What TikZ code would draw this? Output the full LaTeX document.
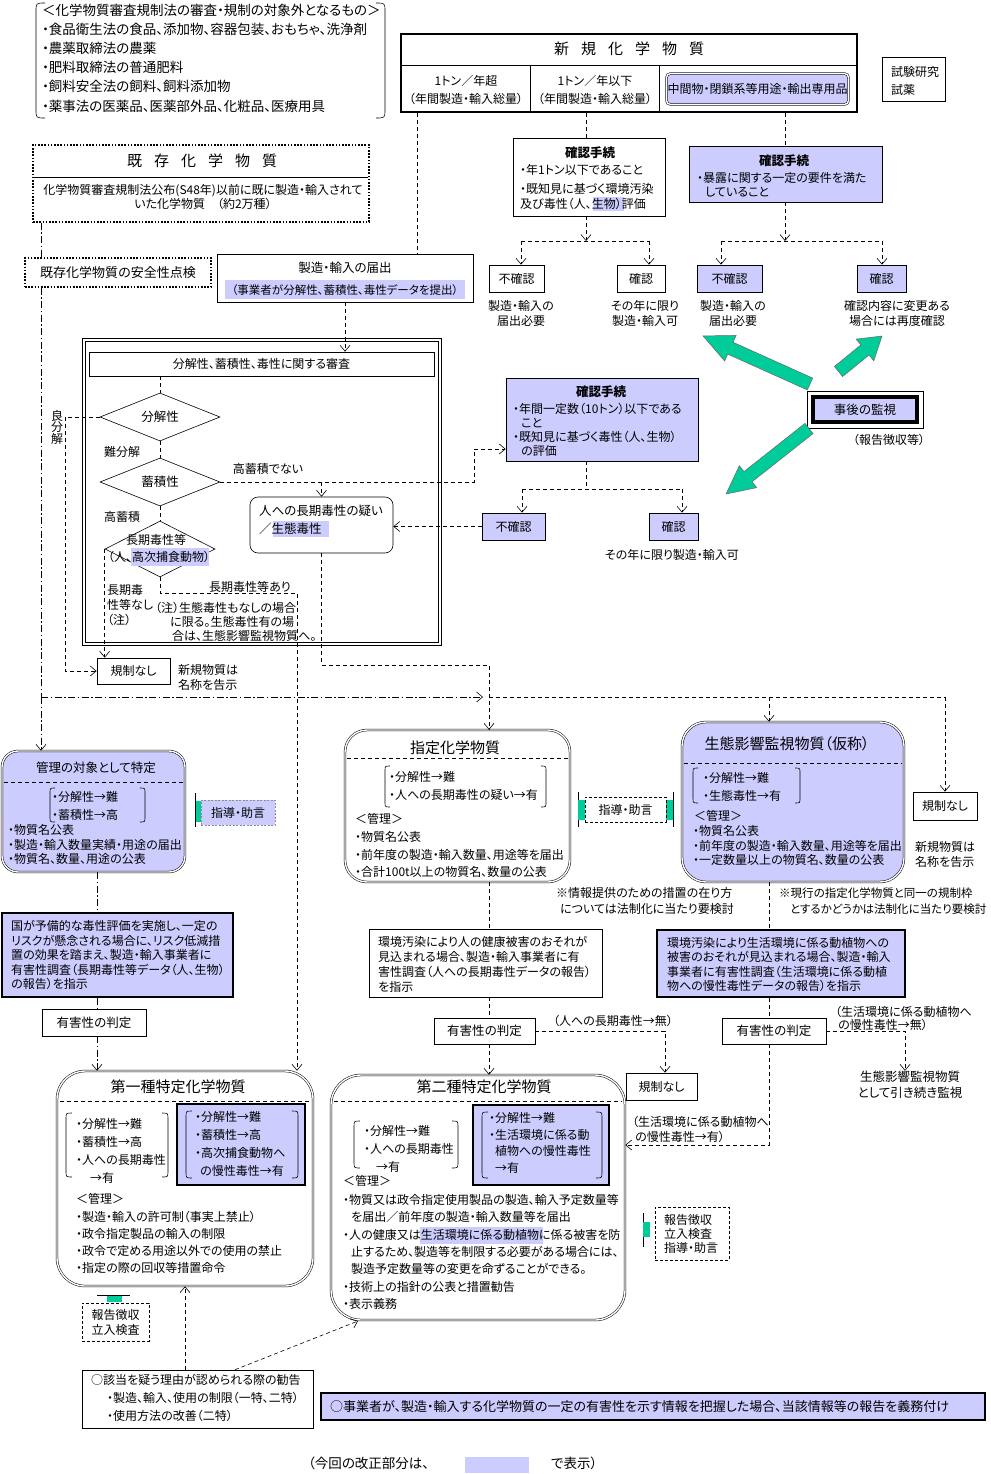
\documentclass[tikz,border=0pt]{standalone}
\usepackage{fontspec}
\setmainfont{Noto Sans CJK JP}[RawFeature=+palt]
\usetikzlibrary{arrows.meta,shapes.geometric}
\definecolor{lav}{RGB}{204,204,255}
\definecolor{grn}{RGB}{0,204,153}
\newcommand\fz[2]{\fontsize{#1}{#2}\selectfont}
\newcommand\gapx{\hspace{12pt}}
\newcommand\lbrk[4]{\draw[line width=0.6pt] (#1+#4,#2) .. controls (#1,#2) .. (#1,#2+#4) -- (#1,#3-#4) .. controls (#1,#3) .. (#1+#4,#3);}
\newcommand\rbrk[4]{\draw[line width=0.6pt] (#1-#4,#2) .. controls (#1,#2) .. (#1,#2+#4) -- (#1,#3-#4) .. controls (#1,#3) .. (#1-#4,#3);}
\newcommand\garrow[5]{\begin{scope}[shift={(#1,#2)},rotate=#3]
\filldraw[fill=grn,draw=black!60,line width=0.5pt] (0pt,-6.5pt) -- ({#4pt-#5pt},-6.5pt) -- ({#4pt-#5pt},-14pt) -- (#4pt,0pt) -- ({#4pt-#5pt},14pt) -- ({#4pt-#5pt},6.5pt) -- (0pt,6.5pt) -- cycle;
\end{scope}}
\begin{document}
\begin{tikzpicture}[x=1pt,y=-1pt,font=\fz{12}{14},
 t/.style={inner sep=0pt,align=left,font=\fz{12}{14}},
 bx/.style={draw,line width=0.6pt,inner sep=0pt,fill=white},
 lb/.style={draw,line width=0.6pt,inner sep=0pt,fill=lav},
 tb/.style={draw,line width=2pt,inner sep=0pt,fill=lav},
 dbl/.style={draw,line width=0.5pt,double=white,double distance=1.4pt,inner sep=0pt},
 dotb/.style={draw,line width=1.6pt,dash pattern=on 1.6pt off 1.6pt,inner sep=0pt,fill=white},
 dbx/.style={draw,line width=0.6pt,dash pattern=on 3pt off 2pt,inner sep=0pt,fill=white},
 dsh/.style={line width=0.6pt,dash pattern=on 4pt off 3pt},
 ddt/.style={line width=0.6pt,dash pattern=on 7pt off 2.5pt on 1.5pt off 2.5pt},
 arr/.style={-{Straight Barb[length=6pt,width=10pt]}},
 dmd/.style={diamond,aspect=2.5,draw,line width=0.6pt,inner sep=0pt,fill=white},
 hl/.style={fill=lav}]
\useasboundingbox (0,0) rectangle (990,1474);
\fill[white] (0,0) rectangle (990,1474);

% coordinates
\coordinate (c41) at (41,0);
\coordinate (c65) at (65,0);
\coordinate (c97) at (97,0);
\coordinate (c185) at (185,0);
\coordinate (c235) at (235,0);
\coordinate (c417) at (417,0);
\coordinate (c586) at (586,0);
\coordinate (c665) at (665,0);
\coordinate (c785) at (785,0);
\coordinate (c905) at (905,0);
\coordinate (j1) at (41,697);
\coordinate (j2a) at (483,697);
\coordinate (j2) at (489,697);
\coordinate (h2) at (489,665);
\coordinate (k946) at (945,697);
\coordinate (c769) at (769,697);
\coordinate (m449) at (474,449);
\coordinate (p593) at (297,593);
\coordinate (b1) at (521,241);
\coordinate (b2) at (649,241);
\coordinate (b3) at (721,241);
\coordinate (b4) at (882,241);
\coordinate (b5) at (522,489);
\coordinate (b6) at (682,489);
\coordinate (q1145) at (769,1145);
\coordinate (dg) at (358,1321);

% exclusion list
\node[t,anchor=west,font=\fz{13.5}{19.2}] (excl) at (42,58) {＜化学物質審査規制法の審査・規制の対象外となるもの＞\\・食品衛生法の食品、添加物、容器包装、おもちゃ、洗浄剤\\・農薬取締法の農薬\\・肥料取締法の普通肥料\\・飼料安全法の飼料、飼料添加物\\・薬事法の医薬品、医薬部外品、化粧品、医療用具};
\lbrk{36}{3}{118}{9} \rbrk{385}{3}{118}{9}

% new chemicals table
\node[draw,line width=2pt,inner sep=0pt,minimum width=456pt,minimum height=78pt] (newbox) at (629,73) {};
\draw[line width=0.6pt] (401,65) -- (857,65) (530,65) -- (530,112) (659,65) -- (659,112);
\node[t,font=\fz{15}{18}] (newT) at (629,49) {新\gapx 規\gapx 化\gapx 学\gapx 物\gapx 質};
\node[t,align=center,font=\fz{12}{18}] (cellA) at (466,90) {1トン／年超\\（年間製造・輸入総量）};
\node[t,align=center,font=\fz{12}{18}] (cellB) at (595,90) {1トン／年以下\\（年間製造・輸入総量）};
\node[dbl,fill=lav,rounded corners=4pt,minimum width=182pt,minimum height=31pt] (cellC) at (757.5,89) {中間物・閉鎖系等用途・輸出専用品};
\node[bx,minimum width=63pt,minimum height=44pt] (shiken) at (913.5,79) {};
\node[t,anchor=west,font=\fz{12}{18}] (shikenT) at (891,81) {試験研究\\試薬};

% existing chemicals
\node[dotb,minimum width=336pt,minimum height=77pt] (kizon) at (201,183.5) {};
\draw[line width=0.6pt] (34,177) -- (368,177);
\node[t,font=\fz{15}{18}] (kizonT) at (202,161) {既\gapx 存\gapx 化\gapx 学\gapx 物\gapx 質};
\node[t,align=center] (kizonD) at (203,197) {化学物質審査規制法公布(S48年)以前に既に製造・輸入されて\\いた化学物質　（約2万種）};
\node[dotb,minimum width=186pt,minimum height=29pt,font=\fz{13}{16}] (anzen) at (118,272.5) {既存化学物質の安全性点検};

% notification
\node[bx,minimum width=256pt,minimum height=48pt] (todoke) at (345,278) {};
\fill[hl] (225,280) rectangle (465,299);
\node[t,font=\fz{12.5}{14}] (todokeT) at (345,268) {製造・輸入の届出};
\node[t,font=\fz{11.5}{14}] (todokeD) at (345,290) {（事業者が分解性、蓄積性、毒性データを提出）};

% screening
\draw[line width=0.7pt] (82,338) rectangle (441,645);
\node[draw,line width=0.7pt,inner sep=0pt,minimum width=353pt,minimum height=301pt] (scr) at (261.5,491.5) {};
\node[bx,minimum width=345pt,minimum height=24pt] (header) at (261.5,364) {分解性、蓄積性、毒性に関する審査};
\node[dmd,minimum width=120pt,minimum height=48pt,font=\fz{12.5}{14}] (d1) at (160,417) {分解性};
\node[dmd,minimum width=120pt,minimum height=48pt,font=\fz{12.5}{14}] (d2) at (160,482) {蓄積性};
\node[dmd,minimum width=110pt,minimum height=56pt] (d3) at (160,549) {};
\fill[hl] (131,548) rectangle (209,566);
\node[t,font=\fz{12}{14}] (d3a) at (156,540) {長期毒性等};
\node[t,font=\fz{12}{14}] (d3b) at (159,557) {（人、高次捕食動物）};
\node[t] (lbNan) at (122,452) {難分解};
\node[t] (lbKou) at (122,517) {高蓄積};
\node[t,align=center,font=\fz{12}{11.5}] (lbRyo) at (57,427) {良\\分\\解};
\node[t] (lbNot) at (268,469) {高蓄積でない};
\node[bx,rounded corners=8pt,minimum width=143pt,minimum height=56pt] (hito) at (321.5,525) {};
\fill[hl] (273,521) rectangle (329,537);
\node[t,anchor=west,font=\fz{12.5}{18}] (hitoT) at (259,520) {人への長期毒性の疑い\\／生態毒性};
\node[t,anchor=west,font=\fz{12}{15}] (lbNashi) at (107,605) {長期毒\\性等なし\\（注）};
\node[t] (lbAri) at (250,587) {長期毒性等あり};
\node[t,anchor=west,font=\fz{12}{14}] (note) at (155,622) {（注）生態毒性もなしの場合\\\hspace*{15pt}に限る。生態毒性有の場\\\hspace*{17pt}合は、生態影響監視物質へ。};
\node[bx,minimum width=73pt,minimum height=26pt] (kisei1) at (133.5,671) {規制なし};
\node[t,anchor=west,font=\fz{12}{15}] (kisei1L) at (178,677) {新規物質は\\名称を告示};

% confirmation (1t or less)
\node[bx,minimum width=152pt,minimum height=78pt] (kak1) at (589,177) {};
\fill[hl] (593,197) rectangle (624,211);
\node[t,font=\bfseries\fz{12.5}{15}] (kak1T) at (590,153) {確認手続};
\node[t,anchor=west] (kak1a) at (520,170) {・年1トン以下であること};
\node[t,anchor=west,font=\fz{12}{15}] (kak1b) at (520,196.5) {・既知見に基づく環境汚染\\及び毒性（人、生物）評価};
\node[bx,minimum width=55pt,minimum height=27pt] (fk1) at (516.5,278.5) {不確認};
\node[t,align=center,font=\fz{12}{15}] (fk1L) at (521,313) {製造・輸入の\\届出必要};
\node[bx,minimum width=48pt,minimum height=27pt] (kk1) at (641,278.5) {確認};
\node[t,align=center,font=\fz{12}{15}] (kk1L) at (645,313) {その年に限り\\製造・輸入可};

% confirmation (intermediates)
\node[lb,minimum width=193pt,minimum height=56pt] (kak2) at (785.5,174) {};
\node[t,font=\bfseries\fz{12.5}{15}] (kak2T) at (784,161) {確認手続};
\node[t,anchor=west,font=\fz{12}{14}] (kak2a) at (697,185) {・暴露に関する一定の要件を満た\\\hspace*{8pt}していること};
\node[lb,minimum width=65pt,minimum height=27pt] (fk2) at (729.5,278.5) {不確認};
\node[t,align=center,font=\fz{12}{15}] (fk2L) at (733,313) {製造・輸入の\\届出必要};
\node[lb,minimum width=49pt,minimum height=27pt] (kk2) at (881.5,278.5) {確認};
\node[t,align=center,font=\fz{12}{15}] (kk2L) at (897,313) {確認内容に変更ある\\場合には再度確認};

% monitoring
\node[draw,line width=4pt,fill=lav,inner sep=0pt,minimum width=104pt,minimum height=25pt,font=\fz{12.5}{15}] (jigo) at (865,409.5) {事後の監視};
\draw[line width=0.6pt] ([shift={(-4pt,-4pt)}]jigo.south west) rectangle ([shift={(4pt,4pt)}]jigo.north east);
\node[t] (jigoL) at (889,440) {（報告徴収等）};
\garrow{810}{384}{155.8}{117.3}{30}
\garrow{838.5}{371.5}{39.2}{56.1}{22}
\garrow{809}{428.5}{218.3}{105.7}{28}

% confirmation (10t)
\node[lb,minimum width=192pt,minimum height=83pt] (kak3) at (602,419.5) {};
\node[t,font=\bfseries\fz{12.5}{15}] (kak3T) at (601,392) {確認手続};
\node[t,anchor=west,font=\fz{12}{14}] (kak3a) at (513,430) {・年間一定数（10トン）以下である\\\hspace*{8pt}こと\\・既知見に基づく毒性（人、生物）\\\hspace*{8pt}の評価};
\node[lb,minimum width=63pt,minimum height=27pt] (fk3) at (513.5,526.5) {不確認};
\node[lb,minimum width=49pt,minimum height=27pt] (kk3) at (673.5,526.5) {確認};
\node[t] (kk3L) at (672,555) {その年に限り製造・輸入可};

% right no regulation
\node[bx,minimum width=64pt,minimum height=28pt] (kisei2) at (945,806) {規制なし};
\node[t,anchor=west,font=\fz{12}{15}] (kisei2L) at (915,854) {新規物質は\\名称を告示};

% kanri
\node[dbl,fill=lav,rounded corners=16pt,minimum width=183pt,minimum height=121pt] (kanri) at (93.5,811.5) {};
\draw[dsh] (4,782) -- (183,782);
\node[t,font=\fz{12.5}{14}] (kanriT) at (96,768) {管理の対象として特定};
\lbrk{50}{788}{822}{5} \rbrk{145}{788}{822}{5}
\node[t,anchor=west,font=\fz{12}{18}] (kanriA) at (52,806) {・分解性→難\\・蓄積性→高};
\node[t,anchor=west,font=\fz{12}{14.5}] (kanriB) at (8,844.5) {・物質名公表\\・製造・輸入数量実績・用途の届出\\・物質名、数量、用途の公表};
\fill[grn] (195,801) rectangle (201,822);
\draw[line width=0.8pt] (195,793) -- (195,827);
\node[draw=black!45,dash pattern=on 2pt off 1.5pt,line width=0.6pt,fill=lav,inner sep=0pt,minimum width=74pt,minimum height=25pt] (shido1) at (238,812.5) {指導・助言};

\node[tb,minimum width=231pt,minimum height=84pt] (kuni) at (117.5,955) {};
\node[t,anchor=west,font=\fz{12}{14.5}] (kuniT) at (11,955) {国が予備的な毒性評価を実施し、一定の\\リスクが懸念される場合に、リスク低減措\\置の効果を踏まえ、製造・輸入事業者に\\有害性調査（長期毒性等データ（人、生物）\\の報告）を指示};
\node[bx,minimum width=104pt,minimum height=27pt,font=\fz{12.5}{15}] (yg1) at (94,1022.5) {有害性の判定};

% class I
\node[dbl,fill=white,rounded corners=28pt,minimum width=256pt,minimum height=215pt] (dai1) at (185,1178.5) {};
\draw[dsh] (60,1101) -- (310,1101);
\node[t,font=\fz{15}{18}] (dai1T) at (178,1087) {第一種特定化学物質};
\lbrk{66}{1113}{1177}{6} \rbrk{168}{1113}{1177}{6}
\node[t,anchor=west,font=\fz{12}{18}] (dai1A) at (76,1151) {・分解性→難\\・蓄積性→高\\・人への長期毒性\\\hspace*{14pt}→有};
\node[tb,minimum width=128pt,minimum height=81pt] (dai1B) at (241,1144.5) {};
\lbrk{186}{1111}{1178}{6} \rbrk{298}{1111}{1178}{6}
\node[t,anchor=west,font=\fz{12}{18}] (dai1C) at (195,1144) {・分解性→難\\・蓄積性→高\\・高次捕食動物へ\\\hspace*{5pt}の慢性毒性→有};
\node[t,anchor=west] (dai1K) at (76,1199) {＜管理＞};
\node[t,anchor=west,font=\fz{12}{17}] (dai1M) at (76,1242.5) {・製造・輸入の許可制（事実上禁止）\\・政令指定製品の輸入の制限\\・政令で定める用途以外での使用の禁止\\・指定の際の回収等措置命令};
\draw[line width=0.8pt] (97,1295) -- (130,1295);
\fill[grn] (107,1295.5) rectangle (122,1302);
\node[dbx,minimum width=67pt,minimum height=38pt,align=center,font=\fz{12}{15}] (hk1) at (115.5,1322) {報告徴収\\立入検査};
\node[bx,minimum width=231pt,minimum height=58pt] (kankoku) at (197.5,1399) {};
\node[t,anchor=west] (kankokuA) at (91,1380) {○該当を疑う理由が認められる際の勧告};
\node[t,anchor=west,font=\fz{12}{18}] (kankokuB) at (107,1407) {・製造、輸入、使用の制限（一特、二特）\\・使用方法の改善（二特）};

% designated
\node[dbl,fill=white,rounded corners=22pt,minimum width=225pt,minimum height=152pt] (shitei) at (457.5,806) {};
\draw[dsh] (347,758) -- (568,758);
\node[t,font=\fz{15}{18}] (shiteiT) at (455,748) {指定化学物質};
\lbrk{385}{766}{807}{5} \rbrk{546}{766}{807}{5}
\node[t,anchor=west,font=\fz{12}{18}] (shiteiA) at (389,786) {・分解性→難\\・人への長期毒性の疑い→有};
\node[t,anchor=west] (shiteiK) at (355,819) {＜管理＞};
\node[t,anchor=west,font=\fz{12}{17.5}] (shiteiM) at (355,854.5) {・物質名公表\\・前年度の製造・輸入数量、用途等を届出\\・合計100t以上の物質名、数量の公表};
\draw[line width=0.8pt] (578,792) -- (578,827) (673,792) -- (673,827);
\fill[grn] (578,800) rectangle (585,820) (666,800) rectangle (673,820);
\node[dbx,minimum width=81pt,minimum height=25pt] (shido2) at (625.5,809.5) {指導・助言};

% eco
\node[dbl,fill=lav,rounded corners=24pt,minimum width=222pt,minimum height=160pt] (seitai) at (793,802) {};
\draw[dsh] (684,763) -- (902,763);
\node[t,font=\fz{15}{18}] (seitaiT) at (787,744) {生態影響監視物質（仮称）};
\lbrk{693}{768}{803}{5} \rbrk{800}{768}{803}{5}
\node[t,anchor=west,font=\fz{12}{18}] (seitaiA) at (703,787) {・分解性→難\\・生態毒性→有};
\node[t,anchor=west] (seitaiK) at (694,816) {＜管理＞};
\node[t,anchor=west,font=\fz{12}{14.5}] (seitaiM) at (693,845.5) {・物質名公表\\・前年度の製造・輸入数量、用途等を届出\\・一定数量以上の物質名、数量の公表};

\node[t,anchor=west,font=\fz{12}{16}] (note1) at (556,901) {※情報提供のための措置の在り方\\\hspace*{4pt}については法制化に当たり要検討};
\node[t,anchor=west,font=\fz{11.5}{16}] (note2) at (779,901) {※現行の指定化学物質と同一の規制枠\\\hspace*{11pt}とするかどうかは法制化に当たり要検討};

\node[bx,minimum width=233pt,minimum height=68pt] (kankyo1) at (485.5,963) {};
\node[t,anchor=west,font=\fz{12}{15}] (kankyo1T) at (378,964.5) {環境汚染により人の健康被害のおそれが\\見込まれる場合、製造・輸入事業者に有\\害性調査（人への長期毒性データの報告）\\を指示};
\node[bx,minimum width=101pt,minimum height=26pt,font=\fz{12.5}{15}] (yg2) at (484.5,1031) {有害性の判定};
\node[t,anchor=west] (yg2L) at (553,1021) {（人への長期毒性→無）};
\node[bx,minimum width=71pt,minimum height=27pt] (kisei3) at (661.5,1086.5) {規制なし};

\node[tb,minimum width=248pt,minimum height=67pt] (sinst) at (781,963.5) {};
\node[t,anchor=west,font=\fz{12}{14.5}] (sinstT) at (667,964.5) {環境汚染により生活環境に係る動植物への\\被害のおそれが見込まれる場合、製造・輸入\\事業者に有害性調査（生活環境に係る動植\\物への慢性毒性データの報告）を指示};
\node[bx,minimum width=104pt,minimum height=26pt,font=\fz{12.5}{15}] (yg3) at (774,1031) {有害性の判定};
\node[t,anchor=west,font=\fz{12}{13}] (yg3L) at (835,1018.5) {（生活環境に係る動植物へ\\\hspace*{3pt}の慢性毒性→無）};
\node[t,align=center,font=\fz{12.5}{15.5}] (keizoku) at (910,1084.5) {生態影響監視物質\\として引き続き監視};

% class II
\node[dbl,fill=white,rounded corners=30pt,minimum width=294pt,minimum height=245pt] (dai2) at (478,1197.5) {};
\draw[dsh] (334,1101) -- (622,1101);
\node[t,font=\fz{15}{18}] (dai2T) at (484,1087) {第二種特定化学物質};
\lbrk{354}{1121}{1168}{6} \rbrk{458}{1121}{1168}{6}
\node[t,anchor=west,font=\fz{12}{18}] (dai2A) at (364,1149) {・分解性→難\\・人への長期毒性\\\hspace*{12pt}→有};
\node[tb,minimum width=136pt,minimum height=80pt] (dai2B) at (541,1145) {};
\lbrk{482}{1112}{1178}{6} \rbrk{602}{1112}{1178}{6}
\node[t,anchor=west,font=\fz{12}{16.7}] (dai2C) at (489,1143) {・分解性→難\\・生活環境に係る動\\\hspace*{6pt}植物への慢性毒性\\\hspace*{6pt}→有};
\node[t,anchor=west] (dai2K) at (343,1181) {＜管理＞};
\fill[hl] (420,1227) rectangle (543,1244);
\node[t,anchor=west,font=\fz{12}{17.33}] (dai2M) at (343,1252) {・物質又は政令指定使用製品の製造、輸入予定数量等\\\hspace*{8pt}を届出／前年度の製造・輸入数量等を届出\\・人の健康又は生活環境に係る動植物に係る被害を防\\\hspace*{8pt}止するため、製造等を制限する必要がある場合には、\\\hspace*{8pt}製造予定数量等の変更を命ずることができる。\\・技術上の指針の公表と措置勧告\\・表示義務};
\node[t,anchor=west,font=\fz{12}{15}] (yuL) at (632,1129.5) {（生活環境に係る動植物へ\\\hspace*{3pt}の慢性毒性→有）};
\draw[line width=0.8pt] (643,1213) -- (643,1247);
\fill[grn] (643,1222) rectangle (650,1237);
\node[dbx,minimum width=74pt,minimum height=53pt] (hk2) at (692,1233.5) {};
\node[t,anchor=west,font=\fz{12}{14}] (hk2T) at (664,1234) {報告徴収\\立入検査\\指導・助言};

% bottom
\node[tb,minimum width=664pt,minimum height=27pt] (gimu) at (653,1406.5) {};
\node[t,anchor=west,font=\fz{13}{15}] (gimuT) at (330,1407) {○事業者が、製造・輸入する化学物質の一定の有害性を示す情報を把握した場合、当該情報等の報告を義務付け};
\node[t,anchor=west,font=\fz{13.5}{15}] (leg1) at (308,1463) {（今回の改正部分は、};
\fill[hl] (465,1457) rectangle (529,1473);
\node[t,anchor=west,font=\fz{13.5}{15}] (leg2) at (551,1463) {で表示）};

% connectors
\draw[ddt] (kizon.south -| c41) -- (anzen.north -| c41);
\draw[ddt] (anzen.south -| c41) -- (j1);
\draw[ddt,arr] (j1) -- (j2a);
\draw[ddt,arr] (j1) -- (kanri.north -| j1);
\draw[dsh] (newbox.south -| c417) -- (todoke.north -| c417);
\draw[dsh,arr] (todoke.south) -- (todoke.south |- header.north);
\draw[dsh] (header.south -| d1.north) -- (d1.north);
\draw[dsh] (d1.south) -- (d2.north);
\draw[dsh] (d2.south) -- (d3.north);
\draw[dsh,arr] (d1.west) -- (d1.west -| c65) -- (c65 |- kisei1.west) -- (kisei1.west);
\draw[dsh,arr] (d2.east) -- (d2.east -| m449) -- (m449) -- (m449 -| kak3.west);
\draw[dsh,arr] (d2.east -| hito.north) -- (hito.north);
\draw[dsh,arr] (fk3.west) -- (fk3.west -| hito.east);
\draw[dsh,arr] (d3.west) -- (d3.west |- kisei1.north);
\draw[dsh,arr] (d3.south) -- (d3.south |- p593) -- (p593) -- (p593 |- dai1.north);
\draw[dsh,arr] (hito.south) -- (hito.south |- h2) -- (h2) -- (h2 |- shitei.north);
\draw[dsh] (j2) -- (k946);
\draw[dsh,arr] (k946) -- (kisei2.north);
\draw[dsh,arr] (c769) -- (seitai.north -| c769);
\draw[dsh] (newbox.south -| c586) -- (kak1.north -| c586);
\draw[dsh,arr] (kak1.south -| c586) -- (c586 |- b1);
\draw[dsh] (b1) -- (b2);
\draw[dsh,arr] (b1) -- (b1 |- fk1.north);
\draw[dsh,arr] (b2) -- (b2 |- kk1.north);
\draw[dsh] (newbox.south -| c785) -- (kak2.north -| c785);
\draw[dsh,arr] (kak2.south -| c785) -- (c785 |- b3);
\draw[dsh] (b3) -- (b4);
\draw[dsh,arr] (b3) -- (b3 |- fk2.north);
\draw[dsh,arr] (b4) -- (b4 |- kk2.north);
\draw[dsh] (kak3.south -| c586) -- (c586 |- b5);
\draw[dsh] (b5) -- (b6);
\draw[dsh,arr] (b5) -- (b5 |- fk3.north);
\draw[dsh,arr] (b6) -- (b6 |- kk3.north);
\draw[ddt] (kanri.south -| c97) -- (kuni.north -| c97);
\draw[ddt] (kuni.south -| c97) -- (yg1.north -| c97);
\draw[ddt,arr] (yg1.south -| c97) -- (dai1.north -| c97);
\draw[dsh] (shitei.south -| h2) -- (kankyo1.north -| h2);
\draw[dsh] (kankyo1.south -| h2) -- (yg2.north -| h2);
\draw[dsh,arr] (yg2.south -| h2) -- (dai2.north -| h2);
\draw[dsh,arr] (yg2.east) -- (yg2.east -| c665) -- (c665 |- kisei3.north);
\draw[dsh] (seitai.south -| c769) -- (sinst.north -| c769);
\draw[dsh] (sinst.south -| c769) -- (yg3.north -| c769);
\draw[dsh,arr] (yg3.east) -- (yg3.east -| c905) -- (c905 |- keizoku.north);
\draw[dsh,arr] (yg3.south -| q1145) -- (q1145) -- (q1145 -| dai2.east);
\draw[dsh,arr] (kankoku.north -| c185) -- (dai1.south -| c185);
\draw[dsh,arr] (kankoku.north -| c235) -- (dg);
\end{tikzpicture}
\end{document}
